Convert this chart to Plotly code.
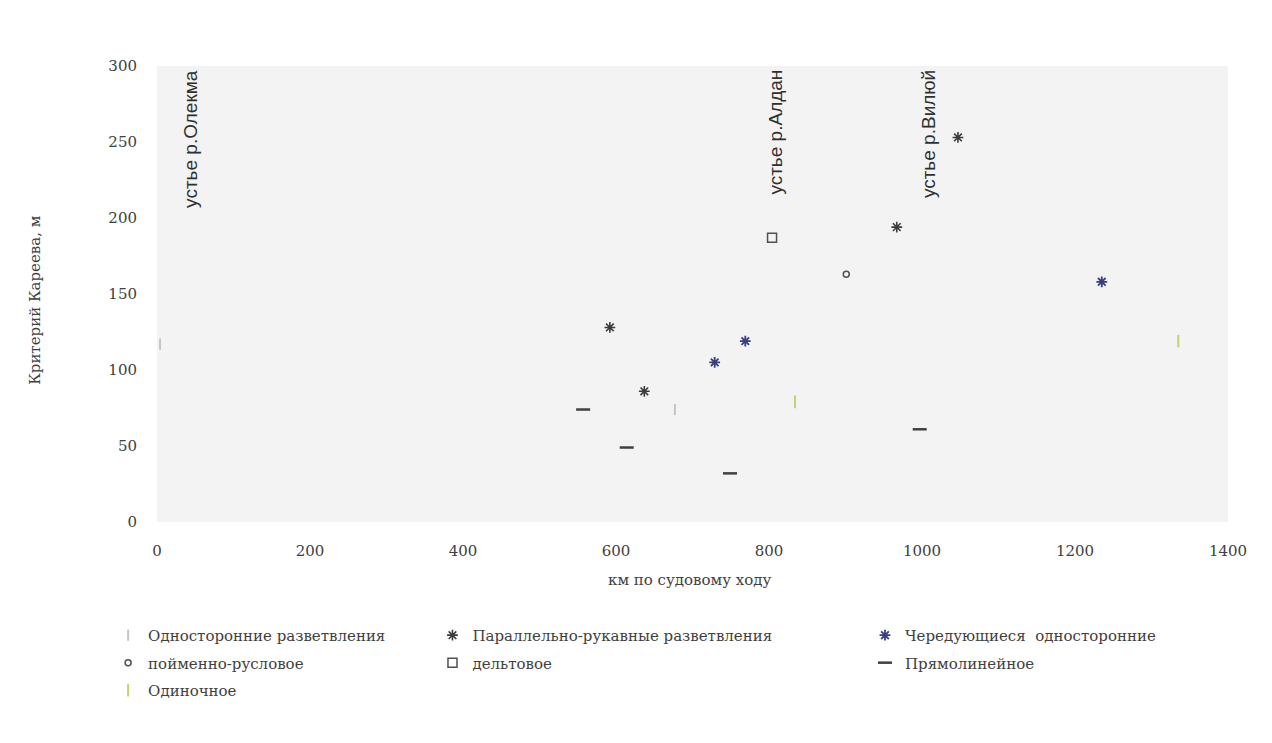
import plotly.graph_objects as go

# Типы русла: координата (км по судовому ходу) и критерий Кареева (м)
odnostor_km = [4, 677]
odnostor_k = [117, 74]

parall_km = [592, 637, 967, 1047]
parall_k = [128, 86, 194, 253]

chered_km = [729, 769, 1235]
chered_k = [105, 119, 158]

poim_km = [901]
poim_k = [163]

delta_km = [804]
delta_k = [187]

pryam_km = [557, 614, 749, 997]
pryam_k = [74, 49, 32, 61]

odin_km = [834, 1335]
odin_k = [79, 119]

# Устья притоков
mouth_km = [43, 808, 1008]
mouth_names = ["устье р.Олекма", "устье р.Алдан", "устье р.Вилюй"]

x_ticks = [0, 200, 400, 600, 800, 1000, 1200, 1400]
y_ticks = [0, 50, 100, 150, 200, 250, 300]

serif = "DejaVu Serif"
sans = "Liberation Sans"
txt = "#404040"

fig = go.Figure()

series = [
    ("Односторонние разветвления", odnostor_km, odnostor_k,
     dict(symbol="line-ns-open", size=8, color="#c4c4c4", line=dict(width=2, color="#c4c4c4")), "legend"),
    ("пойменно-русловое", poim_km, poim_k,
     dict(symbol="circle-open", size=6, color="#505050", line=dict(width=1.5, color="#505050")), "legend"),
    ("Одиночное", odin_km, odin_k,
     dict(symbol="line-ns-open", size=9, color="#c8d070", line=dict(width=2, color="#c8d070")), "legend"),
    ("Параллельно-рукавные разветвления", parall_km, parall_k,
     dict(symbol="asterisk-open", size=9, color="#3c3c3c", line=dict(width=1.6, color="#3c3c3c")), "legend2"),
    ("дельтовое", delta_km, delta_k,
     dict(symbol="square-open", size=9, color="#505050", line=dict(width=1.5, color="#505050")), "legend2"),
    ("Чередующиеся  односторонние", chered_km, chered_k,
     dict(symbol="asterisk-open", size=9, color="#3a3f80", line=dict(width=1.8, color="#3a3f80")), "legend3"),
    ("Прямолинейное", pryam_km, pryam_k,
     dict(symbol="line-ew-open", size=10, color="#404040", line=dict(width=2.5, color="#404040")), "legend3"),
]

for i, (name, xs, ys, mk, lg) in enumerate(series):
    fig.add_trace(go.Scatter(
        x=xs, y=ys, mode="markers", name=name, marker=mk,
        legend=lg, legendgroup=f"g{i}", hoverinfo="x+y+name",
    ))

for km, name in zip(mouth_km, mouth_names):
    fig.add_annotation(
        x=km, y=300, yref="y", xref="x", text=name, textangle=-90,
        showarrow=False, yanchor="top", xanchor="center", yshift=-2,
        font=dict(family=sans, size=19, color="#303030"),
    )

# Подписи осей
fig.add_annotation(
    x=0.498, y=-0.127, xref="paper", yref="paper", text="км по судовому ходу",
    showarrow=False, xanchor="center", yanchor="middle",
    font=dict(family=serif, size=15, color=txt),
)
fig.add_annotation(
    x=-0.114, y=0.487, xref="paper", yref="paper", text="Критерий Кареева, м",
    showarrow=False, textangle=-90, xanchor="center", yanchor="middle",
    font=dict(family=serif, size=15, color=txt),
)

legend_common = dict(
    orientation="v", yanchor="top", xanchor="left", yref="container", xref="container",
    font=dict(family=serif, size=15, color=txt),
    bgcolor="rgba(0,0,0,0)", tracegroupgap=5, itemwidth=30,
)

fig.update_layout(
    width=1272, height=743,
    margin=dict(l=157, r=44, t=66, b=221, autoexpand=False),
    paper_bgcolor="#ffffff",
    plot_bgcolor="#f3f3f3",
    font=dict(family=serif, size=15, color=txt),
    legend=dict(x=0.085, y=0.167, **legend_common),
    legend2=dict(x=0.34, y=0.167, **legend_common),
    legend3=dict(x=0.68, y=0.167, **legend_common),
    xaxis=dict(
        range=[0, 1400], tickvals=x_ticks, showgrid=False, zeroline=False,
        showline=False, ticks="", tickfont=dict(family=serif, size=15, color=txt),
        ticklabelstandoff=18,
    ),
    yaxis=dict(
        range=[0, 300], tickvals=y_ticks, showgrid=False, zeroline=False,
        showline=False, ticks="", tickfont=dict(family=serif, size=15, color=txt),
        ticklabelstandoff=19,
    ),
)

fig.write_html("out.html")
